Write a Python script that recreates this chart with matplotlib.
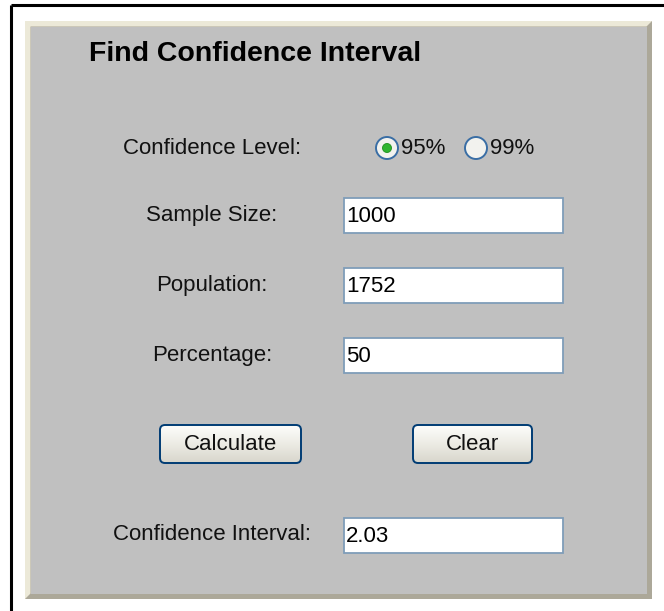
import numpy as np
import matplotlib
matplotlib.use("Agg")
import matplotlib.pyplot as plt
from matplotlib.patches import Rectangle, Polygon, Circle, FancyBboxPatch

# form content
title = "Find Confidence Interval"
level_label = "Confidence Level:"
level_options = ["95%", "99%"]
level_selected = 0
field_labels = ["Sample Size:", "Population:", "Percentage:"]
field_values = ["1000", "1752", "50"]
button_labels = ["Calculate", "Clear"]
result_label = "Confidence Interval:"
result_value = "2.03"

W, H = 664, 611
FONT = "Liberation Sans"
GRAY = "#c0c0c0"

fig = plt.figure(figsize=(W / 100, H / 100), dpi=100)
ax = fig.add_axes([0, 0, 1, 1])
ax.set_xlim(0, W)
ax.set_ylim(H, 0)
ax.axis("off")

# outer black frame (top + left only)
ax.plot([10.5, W], [4.5, 4.5], color="black", lw=2.2, solid_capstyle="butt")
ax.plot([10.5, 10.5], [4.5, H], color="black", lw=2.2, solid_capstyle="butt")

# bevelled gray panel
x0, y0, x1, y1 = 25, 21, 652, 599
b = 5.5
ax.add_patch(Rectangle((x0, y0), x1 - x0, y1 - y0, fc="#aca899", ec="none"))
ax.add_patch(Polygon([(x0, y0), (x1, y0), (x1 - b, y0 + b), (x0 + b, y0 + b),
                      (x0 + b, y1 - b), (x0, y1)], fc="#ece9d8", ec="none"))
ax.add_patch(Rectangle((x0 + b, y0 + b), x1 - x0 - 2 * b, y1 - y0 - 2 * b, fc=GRAY, ec="none"))

ax.text(89, 54, title, fontsize=20.5, fontweight="bold", family=FONT,
        ha="left", va="center", color="black")

label_cx = 212
box_x, box_w, box_h = 344, 219, 35


def text_box(yc, value):
    ax.add_patch(Rectangle((box_x, yc - box_h / 2), box_w, box_h, fc="white",
                           ec="#7f9db9", lw=1.3))
    ax.text(box_x + 2, yc + 1, value, fontsize=16, family=FONT, ha="left",
            va="center", color="black")


# confidence level row
row_y = 148
ax.text(label_cx, row_y, level_label, fontsize=16, family=FONT, ha="center",
        va="center", color="#111111")
radio_x = [387, 476]
for i, (rx, opt) in enumerate(zip(radio_x, level_options)):
    ax.add_patch(Circle((rx, row_y), 11, fc="#f2f2ee", ec="#3a6ea5", lw=1.4))
    if i == level_selected:
        ax.add_patch(Circle((rx, row_y), 4.5, fc="#2fb52f", ec="#1f8f1f", lw=0.6))
    ax.text(rx + 14, row_y + 1, opt, fontsize=16, family=FONT, ha="left",
            va="center", color="#111111")

# input fields
field_y = [215, 285, 355]
for yc, lab, val in zip(field_y, field_labels, field_values):
    ax.text(label_cx, yc, lab, fontsize=16, family=FONT, ha="center",
            va="center", color="#111111")
    text_box(yc, val)

# buttons
btn_boxes = [(160, 141), (413, 119)]
btn_y0, btn_h = 425, 38
grad = np.linspace(0, 1, 64).reshape(-1, 1)
for (bx, bw), lab in zip(btn_boxes, button_labels):
    patch = FancyBboxPatch((bx, btn_y0), bw, btn_h,
                           boxstyle="round,pad=0,rounding_size=5",
                           fc="none", ec="#003c74", lw=1.4, zorder=3)
    ax.add_patch(patch)
    im = ax.imshow(grad, extent=(bx, bx + bw, btn_y0 + btn_h, btn_y0),
                   cmap=matplotlib.colors.LinearSegmentedColormap.from_list(
                       "btn", ["#fdfdfb", "#ecebe4", "#d8d6cc"]),
                   aspect="auto", zorder=2)
    im.set_clip_path(patch)
    ax.text(bx + bw / 2, btn_y0 + btn_h / 2 + 1, lab, fontsize=16, family=FONT,
            ha="center", va="center", color="#111111", zorder=4)

# result row
res_y = 535
ax.text(label_cx, res_y, result_label, fontsize=16, family=FONT, ha="center",
        va="center", color="#111111")
text_box(res_y, result_value)

ax.set_xlim(0, W)
ax.set_ylim(H, 0)
fig.savefig("out.png", dpi=100, facecolor="white")
